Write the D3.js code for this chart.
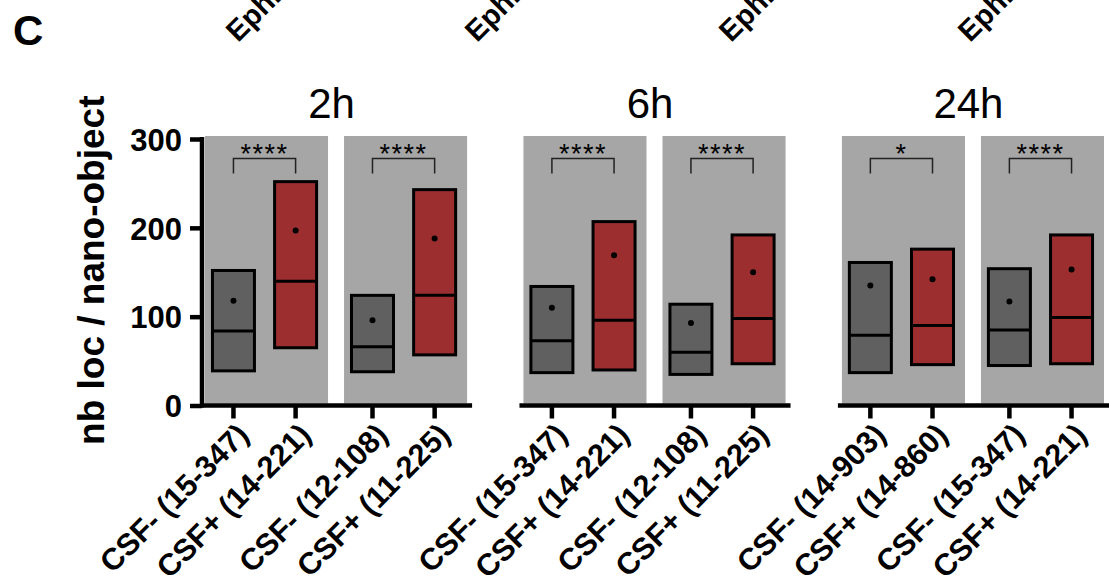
<!DOCTYPE html>
<html>
<head>
<meta charset="utf-8">
<script src="https://cdn.jsdelivr.net/npm/d3@7/dist/d3.min.js"></script>
<style>
  html, body { margin: 0; padding: 0; background: #fff; }
  svg { display: block; font-family: "Liberation Sans", Arial, Helvetica, sans-serif; }
</style>
</head>
<body>
<svg id="chart" width="1109" height="586"></svg>
<script>
// Time points (one panel each)
const timepoints = ["2h", "6h", "24h"];

// Category labels per panel (condition with min-max range)
const labels2h  = ["CSF- (15-347)", "CSF+ (14-221)", "CSF- (12-108)", "CSF+ (11-225)"];
const labels6h  = ["CSF- (15-347)", "CSF+ (14-221)", "CSF- (12-108)", "CSF+ (11-225)"];
const labels24h = ["CSF- (14-903)", "CSF+ (14-860)", "CSF- (15-347)", "CSF+ (14-221)"];

// Box statistics per panel: lower quartile, median, upper quartile, mean
const q1_2h   = [39, 65, 38, 57];
const med_2h  = [84, 140, 66, 124];
const q3_2h   = [152, 252, 124, 243];
const mean_2h = [118, 197, 96, 188];

const q1_6h   = [37, 40, 35, 47];
const med_6h  = [73, 96, 60, 98];
const q3_6h   = [134, 207, 114, 192];
const mean_6h = [110, 169, 93, 150];

const q1_24h   = [37, 46, 45, 47];
const med_24h  = [79, 90, 85, 99];
const q3_24h   = [161, 176, 154, 192];
const mean_24h = [135, 142, 117, 153];

// Significance between CSF- and CSF+ within each pair
const sig2h  = ["****", "****"];
const sig6h  = ["****", "****"];
const sig24h = ["*", "****"];

// Y axis ticks
const yTicks = [0, 100, 200, 300];

// Truncated labels from the panel row above
const upperLabels = ["EphB2", "EphB2", "EphB2", "EphB2"];

const panels = [
  { title: timepoints[0], labels: labels2h,  q1: q1_2h,  med: med_2h,  q3: q3_2h,  mean: mean_2h,  sig: sig2h },
  { title: timepoints[1], labels: labels6h,  q1: q1_6h,  med: med_6h,  q3: q3_6h,  mean: mean_6h,  sig: sig6h },
  { title: timepoints[2], labels: labels24h, q1: q1_24h, med: med_24h, q3: q3_24h, mean: mean_24h, sig: sig24h }
];

const svg = d3.select("#chart");

const COL_NEG = "#606060";
const COL_POS = "#9d2e30";
const COL_BG  = "#a6a6a6";

// Shared vertical scale
const y = d3.scaleLinear().domain([0, 300]).range([405.5, 139]);

// Panel placement
const panelScale = d3.scaleBand().domain(d3.range(panels.length)).range([201, 1107]).paddingInner(0.155);
const panelW = panelScale.bandwidth();

// Panel letter
svg.append("text").attr("x", 13).attr("y", 45)
  .attr("font-size", 42).attr("font-weight", "bold").text("C");

// Cut-off labels of the row above
const upperX = [238, 477, 731, 970];
upperLabels.forEach((t, i) => {
  svg.append("text")
    .attr("transform", `translate(${upperX[i]},43) rotate(-45)`)
    .attr("font-size", 29).attr("font-weight", "bold").text(t);
});

// Y axis
const yAxis = svg.append("g").attr("transform", `translate(${panelScale(0) + 1},0)`)
  .call(d3.axisLeft(y).tickValues(yTicks).tickSize(12).tickPadding(8).tickFormat(d3.format("d")));
yAxis.select(".domain").attr("stroke", "#000").attr("stroke-width", 4.5)
  .attr("d", `M0,${y(300) - 2}V${y(0) + 2}`);
yAxis.selectAll(".tick line").attr("stroke", "#000").attr("stroke-width", 4.5);
yAxis.selectAll(".tick text").attr("font-size", 31).attr("font-weight", "bold")
  .attr("font-family", "Liberation Sans, Arial, sans-serif").attr("fill", "#000").attr("dy", "0.36em");

// Y axis title
svg.append("text")
  .attr("transform", `translate(104,${(y(0) + y(300)) / 2 - 2}) rotate(-90)`)
  .attr("text-anchor", "middle").attr("font-size", 37).attr("font-weight", "bold")
  .text("nb loc / nano-object");

panels.forEach((p, pi) => {
  const x0 = panelScale(pi);
  const g = svg.append("g").attr("transform", `translate(${x0},0)`);

  // Pair bands inside the panel, then condition positions inside each pair
  const pair = d3.scaleBand().domain([0, 1]).range([4, panelW - 3]).paddingInner(0.115);
  const cond = d3.scalePoint().domain([0, 1]).range([0, pair.bandwidth()]).padding(0.49);
  const xPos = i => pair(Math.floor(i / 2)) + cond(i % 2) - 2;

  // Grey pair backgrounds
  [0, 1].forEach(k => {
    g.append("rect")
      .attr("x", pair(k)).attr("width", pair.bandwidth())
      .attr("y", y(300) - 3).attr("height", y(0) - y(300) + 1)
      .attr("fill", COL_BG);
  });

  // X axis with ticks
  const xAxisScale = d3.scaleOrdinal().domain(d3.range(4)).range(d3.range(4).map(xPos));
  const ax = g.append("g").attr("transform", `translate(0,${y(0)})`);
  ax.append("line").attr("x1", 0).attr("x2", panelW + 2).attr("y1", 0).attr("y2", 0)
    .attr("stroke", "#000").attr("stroke-width", 4.5);
  ax.selectAll(".tk").data(d3.range(4)).join("line").attr("class", "tk")
    .attr("x1", d => xAxisScale(d)).attr("x2", d => xAxisScale(d))
    .attr("y1", 0).attr("y2", 13).attr("stroke", "#000").attr("stroke-width", 4.5);
  ax.selectAll(".lbl").data(p.labels).join("text").attr("class", "lbl")
    .attr("transform", (d, i) => `translate(${xAxisScale(i) + 17},${31}) rotate(-45)`)
    .attr("text-anchor", "end").attr("font-size", 30.5).attr("font-weight", "bold")
    .text(d => d);

  // Boxes
  const boxW = 42;
  d3.range(4).forEach(i => {
    const cx = xAxisScale(i);
    const fill = i % 2 === 0 ? COL_NEG : COL_POS;
    g.append("rect")
      .attr("x", cx - boxW / 2).attr("width", boxW)
      .attr("y", y(p.q3[i])).attr("height", y(p.q1[i]) - y(p.q3[i]))
      .attr("fill", fill).attr("stroke", "#000").attr("stroke-width", 3);
    g.append("line")
      .attr("x1", cx - boxW / 2).attr("x2", cx + boxW / 2)
      .attr("y1", y(p.med[i])).attr("y2", y(p.med[i]))
      .attr("stroke", "#000").attr("stroke-width", 3);
    g.append("circle").attr("cx", cx).attr("cy", y(p.mean[i])).attr("r", 3).attr("fill", "#000");
  });

  // Significance brackets
  [0, 1].forEach(k => {
    const xa = xAxisScale(2 * k), xb = xAxisScale(2 * k + 1);
    const top = 158.5, leg = 173.5;
    g.append("path")
      .attr("d", `M${xa},${leg}V${top}H${xb}V${leg}`)
      .attr("fill", "none").attr("stroke", "#222").attr("stroke-width", 1.5);
    g.append("text").attr("x", (xa + xb) / 2).attr("y", 163)
      .attr("text-anchor", "middle").attr("font-size", 27).attr("letter-spacing", 1.5)
      .text(p.sig[k]);
  });

  // Panel title
  svg.append("text").attr("x", x0 + panelW / 2 - 4).attr("y", 118)
    .attr("text-anchor", "middle").attr("font-size", 42).text(p.title);
});
</script>
</body>
</html>
